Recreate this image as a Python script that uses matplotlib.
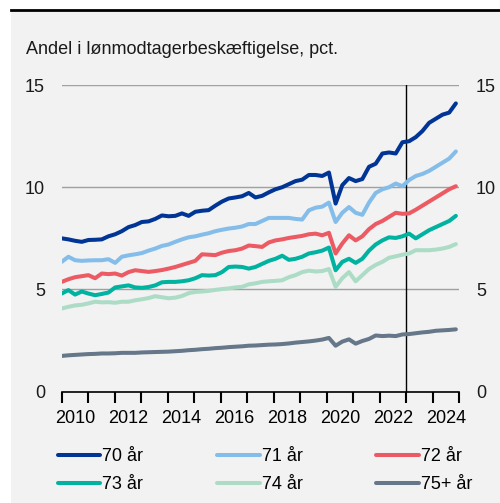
import numpy as np
import matplotlib
matplotlib.use("Agg")
import matplotlib.pyplot as plt
from matplotlib.patches import Rectangle
from matplotlib.lines import Line2D

plt.rcParams['font.family'] = ['Liberation Sans', 'DejaVu Sans']

# quarterly readings, Jan 2010 - autumn 2024
age_70 = [7.50, 7.45, 7.38, 7.33, 7.42, 7.43, 7.45, 7.60, 7.70, 7.85, 8.05, 8.15,
          8.30, 8.33, 8.45, 8.62, 8.58, 8.60, 8.72, 8.60, 8.80, 8.85, 8.88, 9.10,
          9.30, 9.45, 9.50, 9.56, 9.72, 9.50, 9.58, 9.75, 9.90, 10.00, 10.15, 10.30,
          10.37, 10.60, 10.60, 10.55, 10.72, 9.20, 10.10, 10.45, 10.30, 10.40, 11.00, 11.15,
          11.65, 11.70, 11.65, 12.20, 12.25, 12.45, 12.75, 13.15, 13.35, 13.55, 13.65, 14.10]
age_71 = [6.35, 6.60, 6.43, 6.40, 6.42, 6.43, 6.43, 6.48, 6.30, 6.60, 6.67, 6.72,
          6.78, 6.90, 7.00, 7.13, 7.20, 7.33, 7.45, 7.55, 7.60, 7.68, 7.75, 7.85,
          7.92, 7.98, 8.02, 8.08, 8.20, 8.20, 8.35, 8.50, 8.50, 8.50, 8.50, 8.45,
          8.42, 8.87, 9.00, 9.05, 9.25, 8.30, 8.75, 9.03, 8.75, 8.65, 9.25, 9.72,
          9.90, 10.00, 10.18, 10.05, 10.35, 10.55, 10.65, 10.80, 11.00, 11.20, 11.40, 11.75]
age_72 = [5.37, 5.50, 5.60, 5.65, 5.70, 5.55, 5.78, 5.75, 5.78, 5.68, 5.85, 5.94,
          5.90, 5.86, 5.90, 5.95, 6.02, 6.10, 6.20, 6.30, 6.40, 6.72, 6.70, 6.68,
          6.80, 6.88, 6.92, 7.00, 7.15, 7.12, 7.08, 7.30, 7.40, 7.45, 7.52, 7.57,
          7.62, 7.70, 7.73, 7.65, 7.77, 6.76, 7.25, 7.65, 7.40, 7.60, 7.95, 8.20,
          8.35, 8.55, 8.75, 8.70, 8.72, 8.90, 9.10, 9.30, 9.50, 9.70, 9.90, 10.05]
age_73 = [4.80, 4.97, 4.75, 4.90, 4.80, 4.72, 4.78, 4.85, 5.10, 5.15, 5.20, 5.10,
          5.08, 5.12, 5.20, 5.35, 5.37, 5.37, 5.40, 5.45, 5.55, 5.70, 5.68, 5.70,
          5.85, 6.10, 6.12, 6.10, 6.02, 6.10, 6.25, 6.40, 6.50, 6.65, 6.45, 6.50,
          6.60, 6.76, 6.82, 6.90, 7.05, 5.94, 6.35, 6.50, 6.30, 6.50, 6.90, 7.20,
          7.40, 7.55, 7.52, 7.60, 7.73, 7.50, 7.70, 7.90, 8.05, 8.20, 8.35, 8.60]
age_74 = [4.07, 4.15, 4.22, 4.25, 4.32, 4.40, 4.37, 4.38, 4.35, 4.40, 4.40, 4.47,
          4.52, 4.58, 4.67, 4.62, 4.57, 4.60, 4.68, 4.82, 4.88, 4.90, 4.93, 4.98,
          5.02, 5.05, 5.10, 5.13, 5.25, 5.30, 5.37, 5.40, 5.42, 5.45, 5.60, 5.70,
          5.85, 5.92, 5.88, 5.90, 6.00, 5.13, 5.55, 5.85, 5.40, 5.70, 6.00, 6.20,
          6.35, 6.55, 6.62, 6.70, 6.76, 6.92, 6.92, 6.92, 6.95, 7.00, 7.08, 7.22]
age_75 = [1.75, 1.78, 1.80, 1.82, 1.84, 1.85, 1.87, 1.87, 1.88, 1.90, 1.90, 1.90,
          1.92, 1.93, 1.94, 1.95, 1.96, 1.98, 2.00, 2.03, 2.05, 2.08, 2.10, 2.13,
          2.15, 2.18, 2.20, 2.22, 2.25, 2.26, 2.28, 2.30, 2.31, 2.33, 2.36, 2.40,
          2.43, 2.46, 2.50, 2.55, 2.63, 2.25, 2.45, 2.56, 2.35, 2.48, 2.58, 2.75,
          2.72, 2.74, 2.72, 2.80, 2.82, 2.86, 2.90, 2.93, 2.98, 3.00, 3.02, 3.05]

labels = ['70 år', '71 år', '72 år', '73 år', '74 år', '75+ år']
colors = ['#003595', '#84bde9', '#ec5a64', '#00b2a0', '#acdcc6', '#66778a']
series = [age_70, age_71, age_72, age_73, age_74, age_75]

year_labels = ['2010', '2012', '2014', '2016', '2018', '2020', '2022', '2024']
x = np.linspace(2010.0, 2024.87, len(age_70))

FS = 13

fig = plt.figure(figsize=(5.0, 5.03), dpi=100)
fig.patch.set_facecolor('white')
fig.patches.append(Rectangle((11 / 500, 0), 1 - 11 / 500, 1 - 11 / 503,
                             transform=fig.transFigure, facecolor='#f2f2f2',
                             edgecolor='none', zorder=-10))
fig.lines.append(Line2D([11 / 500, 1], [1 - 10 / 503, 1 - 10 / 503],
                        transform=fig.transFigure, color='black', lw=2, zorder=-5))

ax = fig.add_axes([61.7 / 500, 1 - 391.7 / 503, (459.3 - 61.7) / 500, (391.7 - 85) / 503])
ax.set_facecolor('none')

for vals, lab, col in zip(series, labels, colors):
    ax.plot(x, vals, color=col, lw=2.9, label=lab, solid_capstyle='round')

ax.set_xlim(2010, 2025)
ax.set_ylim(0, 15)
ax.axvline(2023.0, color='black', lw=1, zorder=1)

for s in ['top', 'left', 'right']:
    ax.spines[s].set_visible(False)
ax.spines['bottom'].set_color('black')
ax.spines['bottom'].set_linewidth(1.2)

ax.set_yticks([0, 5, 10, 15])
ax.yaxis.grid(True, color='#a0a0a0', lw=1)
ax.set_axisbelow(True)
ax.tick_params(axis='y', length=0, labelsize=FS, pad=12, labelright=True)
for t in ax.get_yticklabels():
    t.set_color('#1a1a1a')

ax.set_xticks(np.arange(2010, 2026))
ax.set_xticklabels([])
ax.tick_params(axis='x', which='major', direction='out', length=8, width=1.5, color='black')
ax.set_xticks([int(y) + 0.5 for y in year_labels], minor=True)
ax.set_xticklabels(year_labels, minor=True)
ax.tick_params(axis='x', which='minor', length=0, labelsize=FS, pad=13)

fig.text(26 / 500, 1 - 54 / 503, 'Andel i lønmodtagerbeskæftigelse, pct.',
         fontsize=FS, color='#1a1a1a', va='baseline', ha='left')

handles, labs = ax.get_legend_handles_labels()
order = [0, 3, 1, 4, 2, 5]
fig.legend([handles[i] for i in order], [labs[i] for i in order], ncol=3,
           loc='upper left', bbox_to_anchor=(58 / 500, 1 - 448 / 503),
           frameon=False, fontsize=FS, handlelength=2.35, handletextpad=0.1,
           columnspacing=4.1, labelspacing=0.6, borderpad=0, borderaxespad=0)

fig.savefig('out.png', dpi=100, facecolor=fig.get_facecolor())
